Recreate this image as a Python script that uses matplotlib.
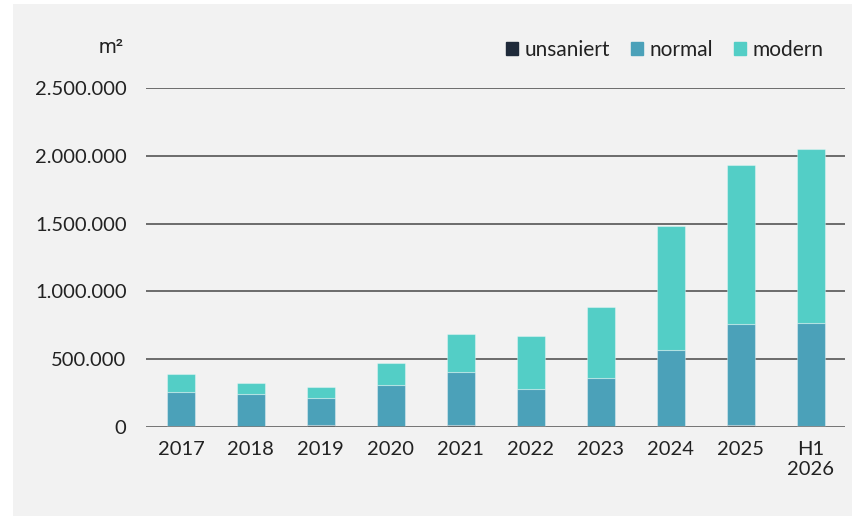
import numpy as np
import matplotlib
matplotlib.use('Agg')
import matplotlib.pyplot as plt
from matplotlib.patches import Patch, Rectangle
from matplotlib.ticker import FuncFormatter

# data (m²)
years = ['2017', '2018', '2019', '2020', '2021', '2022', '2023', '2024', '2025', 'H1\n2026']
unsaniert = [4000, 3000, 14000, 3000, 15000, 5000, 3000, 5000, 12000, 8000]
normal = [256000, 238000, 200000, 309000, 388000, 277000, 356000, 563000, 745000, 757000]
modern = [129000, 81000, 83000, 162000, 283000, 387000, 524000, 912000, 1173000, 1287000]

c_uns = '#1f2a3a'
c_norm = '#4ba1b9'
c_mod = '#53cec6'
bg = '#f2f2f2'

plt.rcParams['font.family'] = ['Lato', 'DejaVu Sans']

fig = plt.figure(figsize=(8.53, 5.16), dpi=100)
fig.patch.set_facecolor('white')
# grey panel (the reference has a thin white strip at top/left)
fig.patches.append(Rectangle((13 / 853, 0), 1, 1 - 4 / 516, transform=fig.transFigure,
                             facecolor=bg, edgecolor='none', zorder=-10))

ax = fig.add_axes([146 / 853, 1 - 427 / 516, (845.5 - 146) / 853, (427 - 88) / 516])
ax.set_facecolor('none')

x = np.arange(len(years))
w = 0.4
edge = (1, 1, 1, 0.35)
u = np.array(unsaniert)
n = np.array(normal)
m = np.array(modern)
ax.bar(x, u, w, color=c_uns, edgecolor=edge, linewidth=0.8, zorder=3)
ax.bar(x, n, w, bottom=u, color=c_norm, edgecolor=edge, linewidth=0.8, zorder=3)
ax.bar(x, m, w, bottom=u + n, color=c_mod, edgecolor=edge, linewidth=0.8, zorder=3)

ax.set_xlim(-0.5, len(years) - 0.5)
ax.set_ylim(0, 2500000)
ax.set_yticks(np.arange(0, 2500001, 500000))
ax.yaxis.set_major_formatter(FuncFormatter(lambda v, p: f'{int(v):,}'.replace(',', '.')))
ax.set_xticks(x)
ax.set_xticklabels(years)

ax.yaxis.grid(True, color='#555555', linewidth=1.2, zorder=1)
ax.axhline(0, color='#7a7a7a', linewidth=1.8, zorder=4)
for s in ax.spines.values():
    s.set_visible(False)
ax.tick_params(axis='both', length=0, labelsize=14.5, colors='#222222')
ax.tick_params(axis='y', pad=14)
ax.tick_params(axis='x', pad=10)

fig.text(124 / 853, 1 - 48 / 516, 'm²', ha='right', va='center', fontsize=14.5,
         color='#222222', family=['Roboto', 'DejaVu Sans'])

handles = [Patch(color=c_uns), Patch(color=c_norm), Patch(color=c_mod)]
fig.legend(handles, ['unsaniert', 'normal', 'modern'], ncol=3, frameon=False,
           loc='center right', bbox_to_anchor=(832 / 853, 1 - 50 / 516),
           fontsize=15, handlelength=0.6, handleheight=0.6, handletextpad=0.3,
           columnspacing=1.0, labelcolor='#222222', borderaxespad=0)

fig.savefig('out.png', dpi=100, facecolor=fig.get_facecolor())
